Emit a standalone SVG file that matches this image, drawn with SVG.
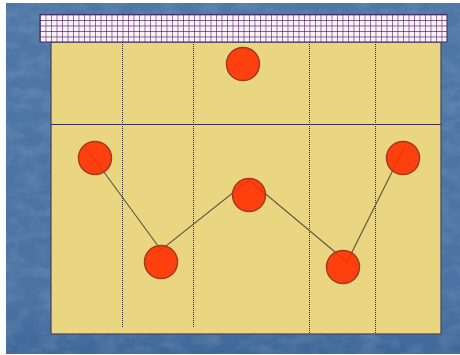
<svg xmlns="http://www.w3.org/2000/svg" width="460" height="355" viewBox="0 0 460 355">
<style>
.vd{stroke:#2e2a2a;stroke-width:1;stroke-dasharray:1 1;fill:none}
.pl{fill:#ff3000;fill-opacity:.9;stroke:#a33a20;stroke-width:1.5}
.cn{stroke:#5f5c48;stroke-width:1.2;fill:none}
</style>
<defs>
<filter id="tx" x="0" y="0" width="100%" height="100%">
<feTurbulence type="fractalNoise" baseFrequency="0.05 0.09" numOctaves="4" seed="9"/>
<feColorMatrix values="0 0 0 0 .72  0 0 0 0 .82  0 0 0 0 .95  1.2 0 0 0 -.45"/>
</filter>
<pattern id="net" x="40" y="14.500" width="5.500" height="5.500" patternUnits="userSpaceOnUse">
<rect width="5.500" height="5.500" fill="#fbf2fb"/>
<path d="M0 0H5.500M0 0V5.500" stroke="#4f2560" stroke-width="1.200" fill="none"/>
</pattern>
<linearGradient id="bg" x1="0" y1="0" x2="0" y2="1">
<stop offset="0" stop-color="#4f77a6"/><stop offset=".85" stop-color="#4b72a2"/><stop offset="1" stop-color="#3f6898"/>
</linearGradient>
</defs>
<rect width="460" height="355" fill="#fff"/>
<g id="background">
<rect x="6" y="3" width="454" height="351" fill="url(#bg)"/>
<rect x="6" y="3" width="454" height="351" filter="url(#tx)" opacity=".22"/>
</g>
<g id="court">
<rect x="51" y="42" width="390" height="292" fill="#ead680" stroke="#4a4a68" stroke-width="1.300"/>
<path class="vd" d="M122.500 42V328M193.500 42V328M309.500 42V334M375.500 42V334"/>
<path d="M51 124.500H441" stroke="#3c3050" stroke-width="1.200" fill="none"/>
</g>
<g id="net-band">
<rect x="40" y="14.500" width="407" height="27.500" fill="url(#net)" stroke="#44306a" stroke-width="1.100"/>
</g>
<g id="connectors">
<path class="cn" d="M90 153L161 250L249 180L347 262L404 148"/>
</g>
<g id="p1"><circle class="pl" cx="243" cy="64" r="16.500"/></g>
<g id="p2"><circle class="pl" cx="95" cy="158" r="16.500"/></g>
<g id="p3"><circle class="pl" cx="161" cy="262" r="16.500"/></g>
<g id="p4"><circle class="pl" cx="249" cy="195" r="16.500"/></g>
<g id="p5"><circle class="pl" cx="343" cy="267" r="16.500"/></g>
<g id="p6"><circle class="pl" cx="403" cy="158" r="16.500"/></g>
</svg>
